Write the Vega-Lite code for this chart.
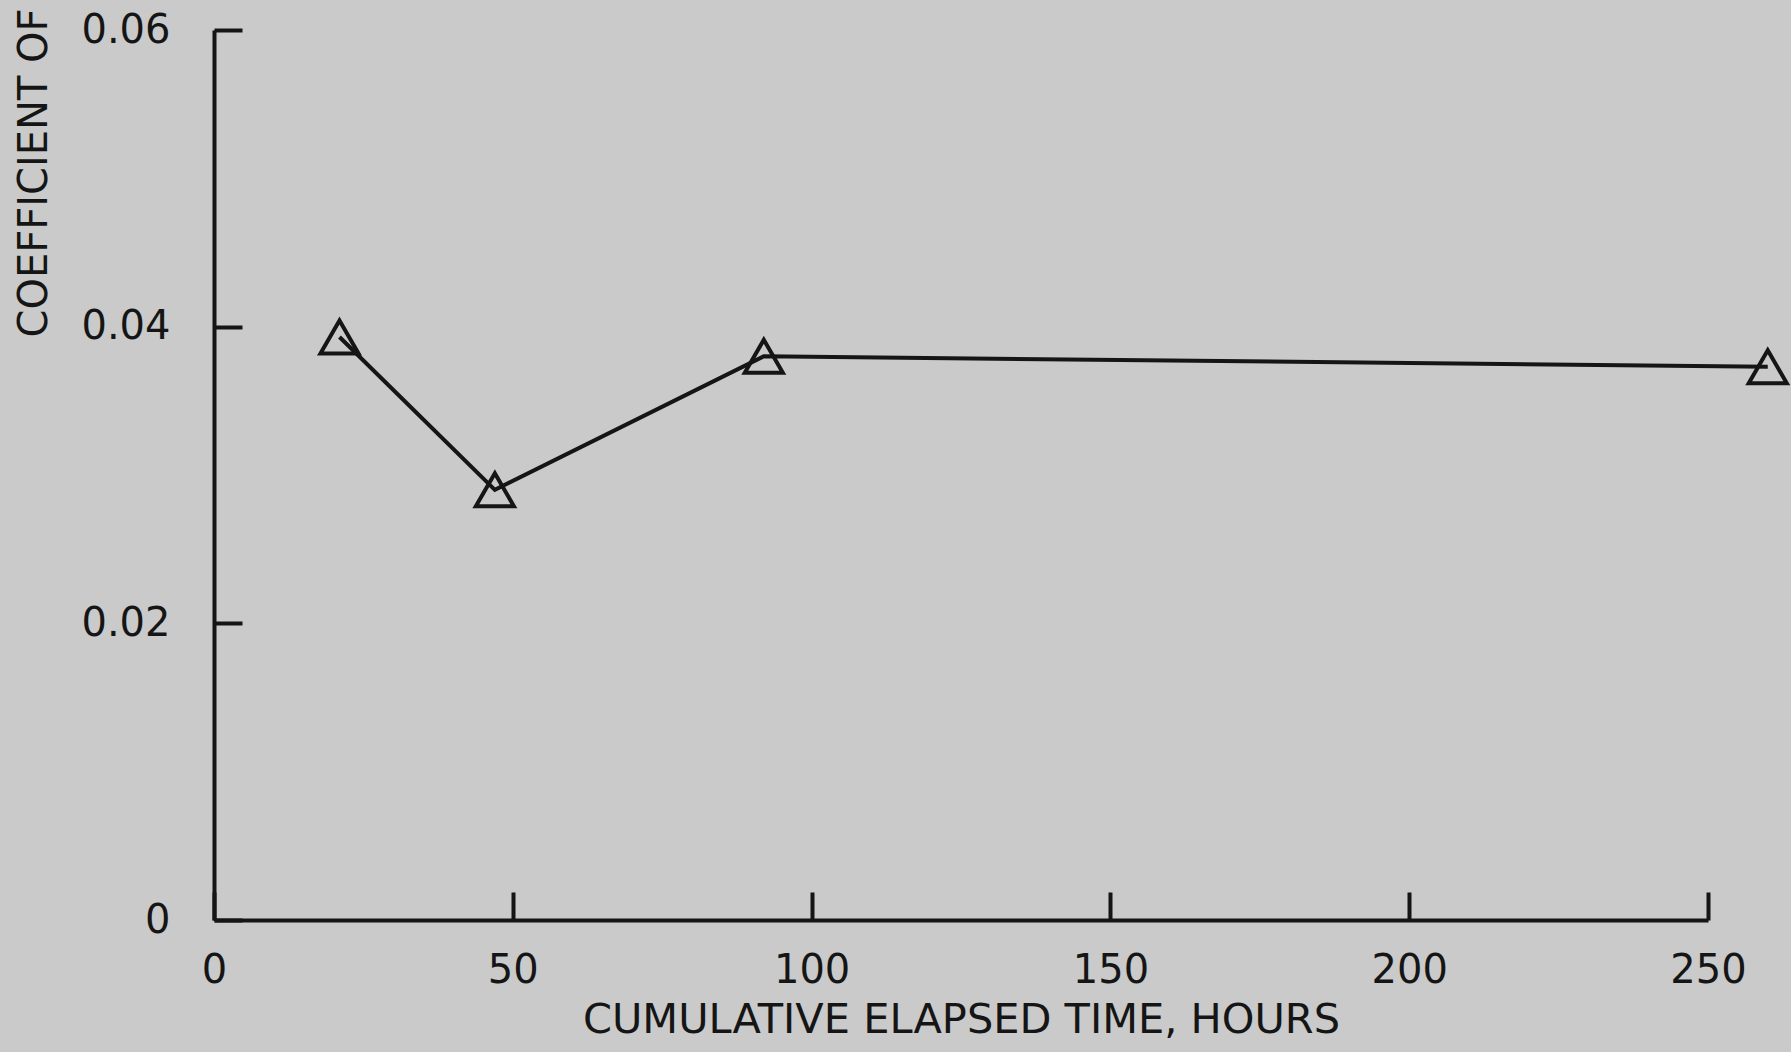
{
  "$schema": "https://vega.github.io/schema/vega-lite/v6.json",
  "width": 1494,
  "height": 890,
  "autosize": {"type": "none"},
  "padding": {"left": 214, "top": 30, "right": 83, "bottom": 132},
  "background": "#c9cac9",
  "config": {
    "view": {"stroke": null},
    "font": "DejaVu Sans",
    "axis": {
      "domainColor": "#151515",
      "domainWidth": 4,
      "tickColor": "#151515",
      "tickWidth": 4,
      "grid": false,
      "labelColor": "#151515",
      "titleColor": "#151515",
      "labelFont": "DejaVu Sans",
      "titleFont": "DejaVu Sans",
      "labelFontSize": 40,
      "titleFontSize": 40,
      "titleFontWeight": "normal"
    }
  },
  "data": {
    "values": [
      {"hours": 21, "coef": 0.0393},
      {"hours": 47, "coef": 0.029},
      {"hours": 92, "coef": 0.038},
      {"hours": 260, "coef": 0.0373}
    ]
  },
  "encoding": {
    "x": {
      "field": "hours",
      "type": "quantitative",
      "scale": {"domain": [0, 250], "nice": false, "zero": true},
      "axis": {
        "title": "CUMULATIVE ELAPSED TIME, HOURS",
        "titleFontSize": 41.5,
        "values": [0, 50, 100, 150, 200, 250],
        "format": "d",
        "tickSize": -28,
        "labelPadding": 58,
        "labelFlush": false,
        "titlePadding": 9
      }
    },
    "y": {
      "field": "coef",
      "type": "quantitative",
      "scale": {"domain": [0, 0.06], "nice": false},
      "axis": {
        "title": "COEFFICIENT OF",
        "values": [0, 0.02, 0.04, 0.06],
        "labelExpr": "datum.value === 0 ? '0' : format(datum.value, '.2f')",
        "tickSize": -28,
        "labelPadding": 72,
        "labelFlush": false,
        "titleAngle": 270,
        "titleAlign": "left",
        "titleBaseline": "middle",
        "titleX": -180,
        "titleY": 307
      }
    }
  },
  "layer": [
    {
      "mark": {"type": "line", "color": "#151515", "strokeWidth": 4, "clip": false}
    },
    {
      "mark": {"type": "point", "shape": "triangle-up", "size": 1450, "filled": false, "stroke": "#151515", "strokeWidth": 4, "opacity": 1, "clip": false}
    }
  ]
}
